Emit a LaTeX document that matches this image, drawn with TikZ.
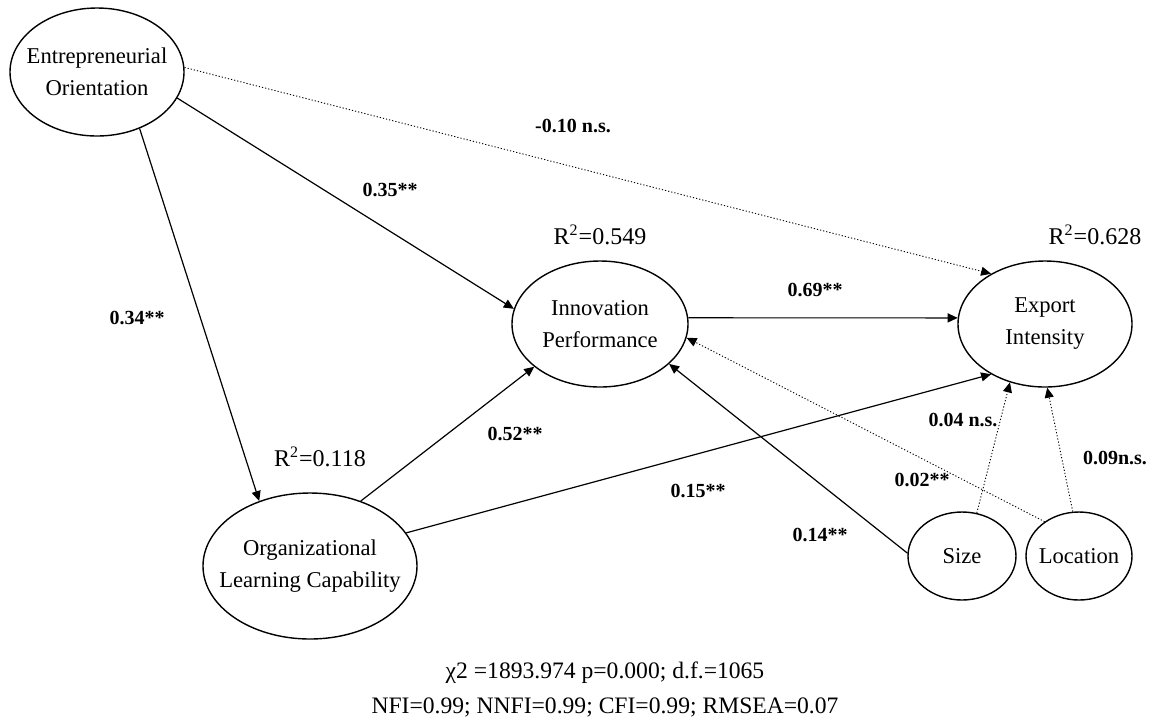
\documentclass[tikz,border=0pt]{standalone}
\usepackage{fontspec}
\setmainfont{Liberation Serif}
\usetikzlibrary{shapes.geometric,arrows.meta}
\tikzset{
  latent/.style={draw, ellipse, line width=0.7pt, inner sep=0pt},
  vartext/.style={align=center, font=\fontsize{11.3}{16}\selectfont},
  coef/.style={font=\fontsize{10}{12}\selectfont\bfseries},
  rsq/.style={font=\fontsize{12}{14}\selectfont},
  effect/.style={line width=0.6pt, -{Triangle[length=5pt,width=4.5pt]}},
  weak/.style={effect, densely dotted, line width=0.45pt},
}
\begin{document}
\begin{tikzpicture}[x=0.5pt, y=-0.5pt]
    \useasboundingbox (0,0) rectangle (1157,725);
    \node[latent, minimum width=87pt, minimum height=64pt, label={[vartext]center:Entrepreneurial\\Orientation}] (eo) at (97,72) {};
    \node[latent, minimum width=88pt, minimum height=63pt, label={[vartext]center:Innovation\\Performance}] (ip) at (600,324) {};
    \node[latent, minimum width=87pt, minimum height=63pt, label={[vartext]center:Export\\Intensity}] (ei) at (1045,324) {};
    \node[latent, minimum width=107pt, minimum height=73pt, label={[vartext]center:Organizational\\Learning Capability}] (olc) at (310,566) {};
    \node[latent, minimum width=54pt, minimum height=44pt, label={[vartext]center:Size}] (size) at (962,556) {};
    \node[latent, minimum width=53pt, minimum height=44pt, label={[vartext]center:Location}] (loc) at (1079,556) {};
    \node[rsq] (r2ip) at (600,235) {R\textsuperscript{2}=0.549};
    \node[rsq] (r2ei) at (1095,235) {R\textsuperscript{2}=0.628};
    \node[rsq] (r2olc) at (320,457) {R\textsuperscript{2}=0.118};
    \draw[effect] (eo.-18) -- (ip.170);
    \draw[weak] (eo.3) -- (ei.137);
    \draw[effect] (eo.-53) -- (olc.128);
    \draw[effect] (ip.4) -- (ei.176);
    \draw[effect] (olc.52) -- (ip.213);
    \draw[effect] (olc.19) -- (ei.223);
    \draw[effect] (size.177) -- (ip.-30);
    \draw[weak] (loc.135) -- (ip.-9);
    \draw[weak] (size.71) -- (ei.-121);
    \draw[weak] (loc.98) -- (ei.-88);
    \node[coef] (c1) at (573,126) {-0.10 n.s.};
    \node[coef] (c2) at (390,190) {0.35**};
    \node[coef] (c3) at (137,318) {0.34**};
    \node[coef] (c4) at (815,290) {0.69**};
    \node[coef] (c5) at (515,434) {0.52**};
    \node[coef] (c6) at (698,491) {0.15**};
    \node[coef] (c7) at (820,535) {0.14**};
    \node[coef] (c8) at (963,420) {0.04 n.s.};
    \node[coef] (c9) at (922,480) {0.02**};
    \node[coef] (c10) at (1115,458) {0.09n.s.};
    \node[rsq, font=\fontsize{11.8}{14}\selectfont] (fit1) at (605,673) {χ2 =1893.974 p=0.000; d.f.=1065};
    \node[rsq, font=\fontsize{11.8}{14}\selectfont] (fit2) at (605,707) {NFI=0.99; NNFI=0.99; CFI=0.99; RMSEA=0.07};
\end{tikzpicture}
\end{document}
